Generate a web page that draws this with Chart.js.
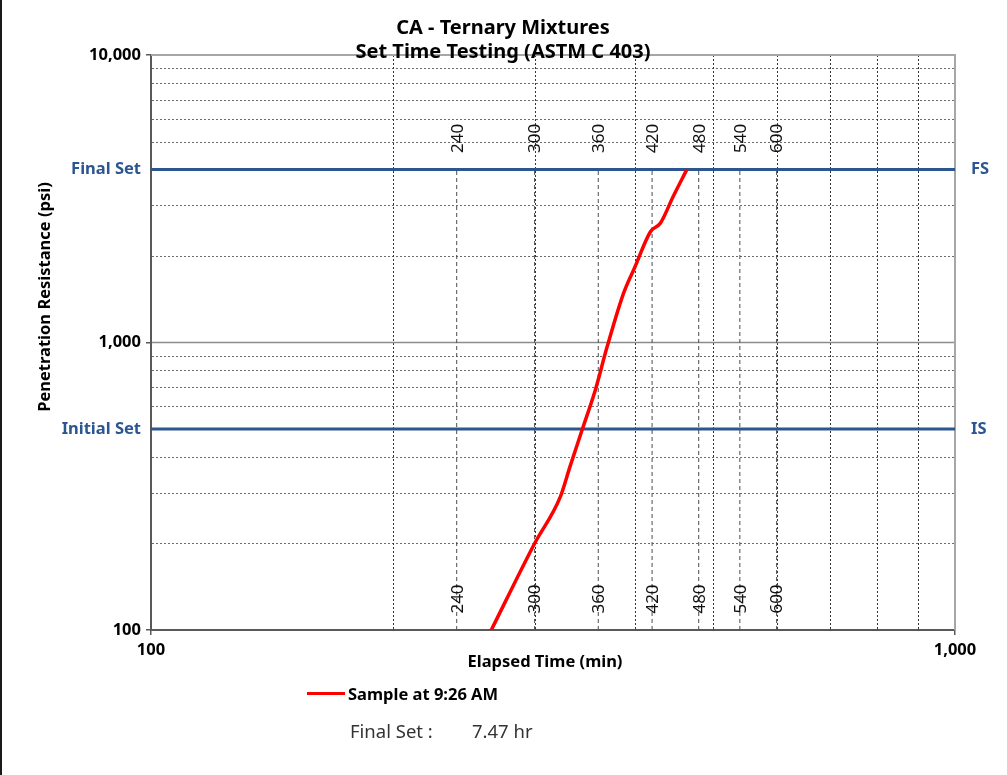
<!DOCTYPE html>
<html lang="en">
<head>
<meta charset="UTF-8">
<title>CA - Ternary Mixtures</title>
<script src="https://cdn.jsdelivr.net/npm/chart.js"></script>
<style>
    body { margin: 0; background: #fff; font-family: "Noto Sans", sans-serif; }
    #wrap { position: relative; width: 1007px; height: 775px; }
    #wrap::before { content: ""; position: absolute; left: 0; top: 0; width: 2px; height: 775px; background: #1a1a1a; }
    .legend { position: absolute; left: 307px; top: 682px; height: 22px; display: flex; align-items: center; font-size: 16.5px; font-weight: 700; color: #000; }
    .legend .swatch { width: 38px; height: 3px; background: #ff0000; margin-right: 3px; }
    .note { position: absolute; top: 719px; line-height: 24px; font-size: 18.5px; color: #333; }
</style>
</head>
<body>
<div id="wrap">
    <canvas id="setTimeChart" width="1007" height="775"></canvas>
    <div class="legend"><span class="swatch"></span>Sample at 9:26 AM</div>
    <div class="note" style="left: 350px;">Final Set :</div>
    <div class="note" style="left: 472px;">7.47 hr</div>
</div>

<script>
    // penetration readings for the sample (elapsed minutes / psi)
    const sampleTimes = [265, 300, 323, 332, 344, 357, 369, 387, 400, 418, 430, 446, 464];
    const samplePsi = [100, 200, 291, 370, 500, 684, 960, 1483, 1835, 2429, 2598, 3215, 4000];

    // set limits per ASTM C 403
    const setLevels = [500, 4000];
    const setNames = ['Initial Set', 'Final Set'];
    const setTags = ['IS', 'FS'];

    // reference times marked on the chart (min)
    const markerTimes = [240, 300, 360, 420, 480, 540, 600];

    const xTickValues = [100, 1000];
    const yTickValues = [100, 1000, 10000];
    const xGridValues = [200, 300, 400, 500, 600, 700, 800, 900];
    const yMinorValues = [200, 300, 400, 600, 700, 800, 900, 2000, 3000, 5000, 6000, 7000, 8000, 9000];
    const yMajorValues = [1000];

    const titleLines = ['CA - Ternary Mixtures', 'Set Time Testing (ASTM C 403)'];
    const xTitle = 'Elapsed Time (min)';
    const yTitle = 'Penetration Resistance (psi)';

    const BLUE = '#2b5690';
    const FONT = '"Noto Sans", sans-serif';

    const fmt = v => Number(v).toLocaleString('en-US');

    const leftTicks = yTickValues.concat(setLevels).sort((a, b) => a - b);
    function leftLabel(v) {
        const i = setLevels.indexOf(v);
        return i >= 0 ? setNames[i] : fmt(v);
    }

    const datasets = [{
        label: 'Sample at 9:26 AM',
        data: sampleTimes.map((t, i) => ({ x: t, y: samplePsi[i] })),
        borderColor: '#ff0000',
        borderWidth: 3.5,
        cubicInterpolationMode: 'monotone',
        pointRadius: 0,
        order: 0
    }];

    setLevels.forEach(level => {
        datasets.push({
            label: 'set',
            data: [{ x: 100, y: level }, { x: 1000, y: level }],
            borderColor: BLUE,
            borderWidth: 3,
            pointRadius: 0,
            order: 1
        });
    });

    markerTimes.forEach(t => {
        datasets.push({
            label: 'marker',
            data: [{ x: t, y: 100 }, { x: t, y: setLevels[1] }],
            borderColor: '#4d4d4d',
            borderWidth: 1,
            borderDash: [4, 3],
            pointRadius: 0,
            order: 2
        });
    });

    function hline(ctx, x0, x1, y) {
        ctx.beginPath(); ctx.moveTo(x0, y); ctx.lineTo(x1, y); ctx.stroke();
    }
    function vline(ctx, x, y0, y1) {
        ctx.beginPath(); ctx.moveTo(x, y0); ctx.lineTo(x, y1); ctx.stroke();
    }

    const gridPlugin = {
        id: 'setTimeGrid',
        beforeDatasetsDraw(chart) {
            const { ctx, chartArea: a, scales: { x, y } } = chart;
            ctx.save();
            ctx.lineWidth = 1;
            ctx.setLineDash([2, 2]);
            ctx.strokeStyle = '#6b6b6b';
            yMinorValues.forEach(v => hline(ctx, a.left + 1, a.right, Math.round(y.getPixelForValue(v)) + 0.5));
            ctx.strokeStyle = '#333';
            xGridValues.forEach(v => vline(ctx, Math.round(x.getPixelForValue(v)) + 0.5, a.top, a.bottom - 1));
            ctx.setLineDash([]);
            ctx.strokeStyle = '#8c8c8c';
            ctx.lineWidth = 1.5;
            yMajorValues.forEach(v => hline(ctx, a.left + 1, a.right, y.getPixelForValue(v)));
            // frame on top and right
            ctx.strokeStyle = '#a6a6a6';
            ctx.lineWidth = 2;
            ctx.beginPath();
            ctx.moveTo(a.left, a.top);
            ctx.lineTo(a.right, a.top);
            ctx.lineTo(a.right, a.bottom);
            ctx.stroke();
            ctx.restore();
        },
        afterDraw(chart) {
            const { ctx, chartArea: a, scales: { x, y } } = chart;
            ctx.save();
            ctx.fillStyle = '#000';
            ctx.textAlign = 'center';
            ctx.textBaseline = 'middle';

            ctx.font = 'bold 20px ' + FONT;
            titleLines.forEach((line, i) => ctx.fillText(line, 503, 28 + i * 24));

            ctx.font = 'bold 16.5px ' + FONT;
            ctx.fillText(xTitle, 545, 662);
            ctx.save();
            ctx.translate(45, 297);
            ctx.rotate(-Math.PI / 2);
            ctx.fillText(yTitle, 0, 0);
            ctx.restore();

            // minute labels along the reference lines
            ctx.font = '17px ' + FONT;
            ctx.fillStyle = '#111';
            const topY = y.getPixelForValue(setLevels[1]) - 31;
            const botY = a.bottom - 31;
            markerTimes.forEach(t => {
                const px = x.getPixelForValue(t);
                [topY, botY].forEach(cy => {
                    ctx.save();
                    ctx.translate(px, cy);
                    ctx.rotate(-Math.PI / 2);
                    ctx.fillText(String(t), 0, 1);
                    ctx.restore();
                });
            });
            ctx.restore();
        }
    };

    new Chart(document.getElementById('setTimeChart'), {
        type: 'line',
        data: { datasets },
        options: {
            responsive: false,
            animation: false,
            layout: { padding: { top: 55, right: 0, bottom: 0, left: 0 } },
            plugins: {
                legend: { display: false },
                tooltip: { enabled: false }
            },
            scales: {
                x: {
                    type: 'logarithmic',
                    position: 'bottom',
                    min: 100,
                    max: 1000,
                    afterBuildTicks: s => { s.ticks = xTickValues.map(v => ({ value: v })); },
                    afterFit: s => { s.height = 145; },
                    ticks: {
                        callback: v => fmt(v),
                        autoSkip: false,
                        maxRotation: 0,
                        padding: 5,
                        color: '#000',
                        font: { family: FONT, size: 16.5, weight: 'bold' }
                    },
                    grid: { drawOnChartArea: false, tickLength: 5, color: '#595959', lineWidth: 1.5 },
                    border: { color: '#595959', width: 2 }
                },
                y: {
                    type: 'logarithmic',
                    position: 'left',
                    min: 100,
                    max: 10000,
                    afterBuildTicks: s => { s.ticks = leftTicks.map(v => ({ value: v })); },
                    afterFit: s => { s.width = 151; },
                    ticks: {
                        callback: v => leftLabel(v),
                        autoSkip: false,
                        padding: 5,
                        color: c => setLevels.includes(c.tick.value) ? BLUE : '#000',
                        font: { family: FONT, size: 16.5, weight: 'bold' }
                    },
                    grid: {
                        drawOnChartArea: false,
                        tickLength: 5,
                        lineWidth: 1.5,
                        color: c => c.tick && setLevels.includes(c.tick.value) ? 'rgba(0,0,0,0)' : '#595959'
                    },
                    border: { color: '#595959', width: 2 }
                },
                y2: {
                    type: 'logarithmic',
                    position: 'right',
                    min: 100,
                    max: 10000,
                    afterBuildTicks: s => { s.ticks = setLevels.map(v => ({ value: v })); },
                    afterFit: s => { s.width = 52; },
                    ticks: {
                        callback: v => setTags[setLevels.indexOf(v)],
                        autoSkip: false,
                        padding: 8,
                        color: BLUE,
                        font: { family: FONT, size: 16.5, weight: 'bold' }
                    },
                    grid: { display: false },
                    border: { display: false }
                }
            }
        },
        plugins: [gridPlugin]
    });
</script>
</body>
</html>
